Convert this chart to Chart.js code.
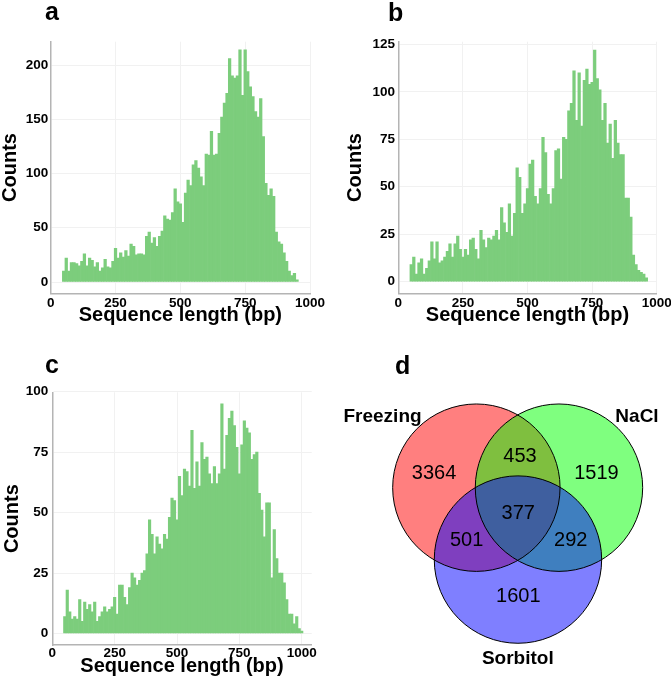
<!DOCTYPE html>
<html><head><meta charset="utf-8">
<script src="https://cdn.jsdelivr.net/npm/chart.js@4.4.1/dist/chart.umd.min.js"></script>
<style>
html,body{margin:0;padding:0;background:#fff;}
#wrap{position:relative;width:671px;height:684px;overflow:hidden;background:#fff;}
canvas{position:absolute;}
</style></head><body>
<div id="wrap">
<canvas id="ca"></canvas><canvas id="cb"></canvas><canvas id="cc"></canvas><canvas id="cd"></canvas>
</div>
<script>
// ---------------- DATA ----------------
const binsA = [50,60,70,80,90,100,110,120,130,140,150,160,170,180,190,200,210,220,230,240,250,260,270,280,290,300,310,320,330,340,350,360,370,380,390,400,410,420,430,440,450,460,470,480,490,500,510,520,530,540,550,560,570,580,590,600,610,620,630,640,650,660,670,680,690,700,710,720,730,740,750,760,770,780,790,800,810,820,830,840,850,860,870,880,890,900,910,920,930,940,950];
const countsA = [10,22,10,18,18,17,15,19,26,15, 22,20,14,18,10,13,21,14,13,19, 31,22,27,23,29,24,35,33,25,26, 26,25,42,46,36,41,33,42,47,61, 58,57,64,86,74,72,55,82,94,89, 108,112,105,97,89,118,117,139,117,118, 137,152,165,174,206,190,188,190,214,172, 214,194,180,171,157,152,169,134,91,80, 86,79,46,37,35,27,19,10,6,8, 2];

const binsB = [50,60,70,80,90,100,110,120,130,140,150,160,170,180,190,200,210,220,230,240,250,260,270,280,290,300,310,320,330,340,350,360,370,380,390,400,410,420,430,440,450,460,470,480,490,500,510,520,530,540,550,560,570,580,590,600,610,620,630,640,650,660,670,680,690,700,710,720,730,740,750,760,770,780,790,800,810,820,830,840,850,860,870,880,890,900,910,920,930,940,950,960];
const countsB = [9,13,4,10,12,4,7,11,21,12, 21,10,11,13,16,20,13,20,24,17, 13,17,14,22,23,17,12,27,22,18, 23,22,24,27,22,39,31,26,41,24, 36,60,55,36,41,49,62,64,45,41, 49,76,68,46,41,49,69,70,54,76, 75,90,94,111,85,110,82,106,112,104, 105,122,107,101,85,94,73,83,65,85, 73,67,67,44,44,34,14,9,6,5, 4,2];

const binsC = [50,60,70,80,90,100,110,120,130,140,150,160,170,180,190,200,210,220,230,240,250,260,270,280,290,300,310,320,330,340,350,360,370,380,390,400,410,420,430,440,450,460,470,480,490,500,510,520,530,540,550,560,570,580,590,600,610,620,630,640,650,660,670,680,690,700,710,720,730,740,750,760,770,780,790,800,810,820,830,840,850,860,870,880,890,900,910,920,930,940,950,960,970,980,990,1000];
const countsC = [7,18,9,6,7,6,14,5,13,10, 12,9,13,5,7,9,11,9,10,11, 15,8,20,20,15,12,19,25,23,20, 22,25,26,33,47,41,33,40,37,35, 41,39,48,56,55,47,65,57,68,67, 61,84,60,71,61,79,72,73,66,62, 69,62,66,95,68,82,89,92,86,77, 66,78,88,85,83,72,74,75,58,51, 40,54,54,23,43,31,25,25,21,14, 8,8,4,7,2,1];

const xTicks = [0,250,500,750,1000];
const yTicksA = [0,50,100,150,200];
const yTicksB = [0,25,50,75,100,125];
const yTicksC = [0,25,50,75,100];

const vennSets = ['Freezing','NaCl','Sorbitol'];
const vennRegions = ['Freezing','NaCl','Sorbitol','Freezing&NaCl','Freezing&Sorbitol','NaCl&Sorbitol','Freezing&NaCl&Sorbitol'];
const vennCounts = [3364,1519,1601,453,501,292,377];

// ---------------- STYLE / LAYOUT ----------------
const FONT = '"Liberation Sans", Arial, Helvetica, sans-serif';
Chart.defaults.font.family = FONT;
Chart.defaults.color = '#000';
const BAR = '#7ccd7c';

const letterPlugin = {
  id: 'panelLetter',
  afterDraw(chart, args, opts) {
    const ctx = chart.ctx;
    ctx.save();
    ctx.font = 'bold 25px ' + FONT;
    ctx.fillStyle = '#000';
    ctx.textBaseline = 'alphabetic';
    ctx.textAlign = 'left';
    ctx.fillText(opts.text, opts.x, opts.y);
    ctx.restore();
  }
};

function place(id, g) {
  const el = document.getElementById(id);
  el.width = g.width; el.height = g.height;
  el.style.left = g.left + 'px'; el.style.top = g.top + 'px';
  el.style.width = g.width + 'px'; el.style.height = g.height + 'px';
  return el;
}

function histogram(id, g, bins, counts, yTicks) {
  const el = place(id, g);
  const axisBorder = { display: true, color: '#b4b4b4', width: 1.5 };
  const gridCfg = { color: '#f1f1f1', lineWidth: 1, drawTicks: false, offset: false };
  const tickFont = { size: 13.5, weight: 'bold', lineHeight: 1 };
  return new Chart(el, {
    type: 'bar',
    data: { datasets: [{
      data: bins.map((b, i) => ({ x: b, y: counts[i] })),
      backgroundColor: BAR, borderWidth: 0,
      barPercentage: 1, categoryPercentage: 1
    }] },
    options: {
      responsive: false, animation: false, events: [],
      layout: { padding: { left: 0, top: g.areaTop, right: g.width - g.areaRight, bottom: 0 } },
      plugins: { legend: { display: false }, tooltip: { enabled: false },
                 panelLetter: g.letter },
      scales: {
        x: {
          type: 'linear', min: g.xMin, max: g.xMax, offset: false,
          grid: gridCfg, border: axisBorder,
          ticks: { font: tickFont, padding: g.xTickPad, color: '#000', autoSkip: false, maxRotation: 0,
                   callback: v => String(v) },
          afterBuildTicks: s => { s.ticks = xTicks.map(v => ({ value: v })); },
          afterFit: s => { s.height = g.height - g.areaBottom; s.paddingLeft = 0; s.paddingRight = 0; },
          title: { display: true, text: 'Sequence length (bp)', color: '#000',
                   font: { size: 20, weight: 'bold', lineHeight: 1 }, padding: 0 }
        },
        y: {
          type: 'linear', min: g.yMin, max: g.yMax,
          grid: gridCfg, border: axisBorder,
          ticks: { font: tickFont, padding: g.yTickPad, color: '#000', autoSkip: false,
                   callback: v => String(v) },
          afterBuildTicks: s => { s.ticks = yTicks.map(v => ({ value: v })); },
          afterFit: s => { s.width = g.areaLeft; s.paddingTop = 0; s.paddingBottom = 0; },
          title: { display: true, text: 'Counts', color: '#000',
                   font: { size: 20, weight: 'bold', lineHeight: 1 }, padding: { top: g.yTitlePad, bottom: 0 } }
        }
      }
    },
    plugins: [letterPlugin]
  });
}

histogram('ca', {
  left: 0, top: 0, width: 340, height: 325,
  areaLeft: 50.7, areaTop: 41.7, areaRight: 310, areaBottom: 293.3,
  xMin: 0, xMax: 1000, yMin: -10.4, yMax: 221.5,
  xTickPad: 2.9, yTickPad: 2.4, yTitlePad: 0,
  letter: { text: 'a', x: 45, y: 20 }
}, binsA, countsA, yTicksA);

histogram('cb', {
  left: 340, top: 0, width: 331, height: 325,
  areaLeft: 58.3, areaTop: 41.7, areaRight: 316.7, areaBottom: 293.3,
  xMin: 0, xMax: 1000, yMin: -6.1, yMax: 126.4,
  xTickPad: 2.9, yTickPad: 3.3, yTitlePad: 5.8,
  letter: { text: 'b', x: 48, y: 20.7 }
}, binsB, countsB, yTicksB);

histogram('cc', {
  left: 0, top: 330, width: 340, height: 346,
  areaLeft: 52.3, areaTop: 62.3, areaRight: 311.7, areaBottom: 315,
  xMin: 0, xMax: 1040, yMin: -4.75, yMax: 99.75,
  xTickPad: 1.8, yTickPad: 4, yTitlePad: 2.5,
  letter: { text: 'c', x: 45, y: 43.3 }
}, binsC, countsC, yTicksC);

// ---------------- VENN ----------------
const vennBox = { left: 330, top: 340, width: 341, height: 344 };
const vennGeo = {
  originX: 517.8, originY: 511.7, unit: 83.7,            // page px of the centroid, px per circle radius
  centers: [[-0.495,-0.287],[0.492,-0.287],[0.002,0.572]],
  regionAt: [[-1.0,-0.46],[0.94,-0.46],[0.006,1.016],[0.026,-0.657],[-0.611,0.338],[0.632,0.338],[0.006,0.019]],
  setLabelAt: [[-1.616,-1.139],[1.424,-1.139],[0.0,1.752]]
};
const vennFill = ['rgba(255,0,0,0.5)','rgba(0,255,0,0.5)','rgba(0,0,255,0.5)'];

(function () {
  const el = place('cd', vennBox);
  const u = vennGeo.unit;
  const xMin = (vennBox.left - vennGeo.originX) / u;
  const xMax = (vennBox.left + vennBox.width - vennGeo.originX) / u;
  const yMin = (vennBox.top - vennGeo.originY) / u;
  const yMax = (vennBox.top + vennBox.height - vennGeo.originY) / u;
  const textPlugin = {
    id: 'vennText',
    afterDatasetsDraw(chart) {
      const { ctx, scales: { x, y } } = chart;
      ctx.save();
      ctx.fillStyle = '#000';
      ctx.textAlign = 'center';
      ctx.textBaseline = 'middle';
      ctx.font = '20px ' + FONT;
      vennCounts.forEach((c, i) => {
        const [vx, vy] = vennGeo.regionAt[i];
        ctx.fillText(String(c), x.getPixelForValue(vx), y.getPixelForValue(vy));
      });
      ctx.font = 'bold 19px ' + FONT;
      vennSets.forEach((n, i) => {
        const [vx, vy] = vennGeo.setLabelAt[i];
        ctx.fillText(n, x.getPixelForValue(vx), y.getPixelForValue(vy));
      });
      ctx.restore();
    }
  };
  new Chart(el, {
    type: 'bubble',
    data: { datasets: [
      { label: 'outline', data: vennGeo.centers.map(([x, y]) => ({ x, y })),
        backgroundColor: 'rgba(0,0,0,0)', borderColor: '#000', borderWidth: 1, radius: u, order: 0 },
      { label: 'sets', data: vennGeo.centers.map(([x, y]) => ({ x, y })),
        backgroundColor: vennFill, borderColor: 'rgba(0,0,0,0)', borderWidth: 0, radius: u, order: 1 }
    ] },
    options: {
      responsive: false, animation: false, events: [],
      layout: { padding: 0, autoPadding: false },
      clip: false,
      plugins: { legend: { display: false }, tooltip: { enabled: false },
                 panelLetter: { text: 'd', x: 65, y: 34 } },
      scales: {
        x: { type: 'linear', display: false, min: xMin, max: xMax },
        y: { type: 'linear', display: false, min: yMin, max: yMax, reverse: true }
      }
    },
    plugins: [textPlugin, letterPlugin]
  });
})();
</script>
</body></html>
